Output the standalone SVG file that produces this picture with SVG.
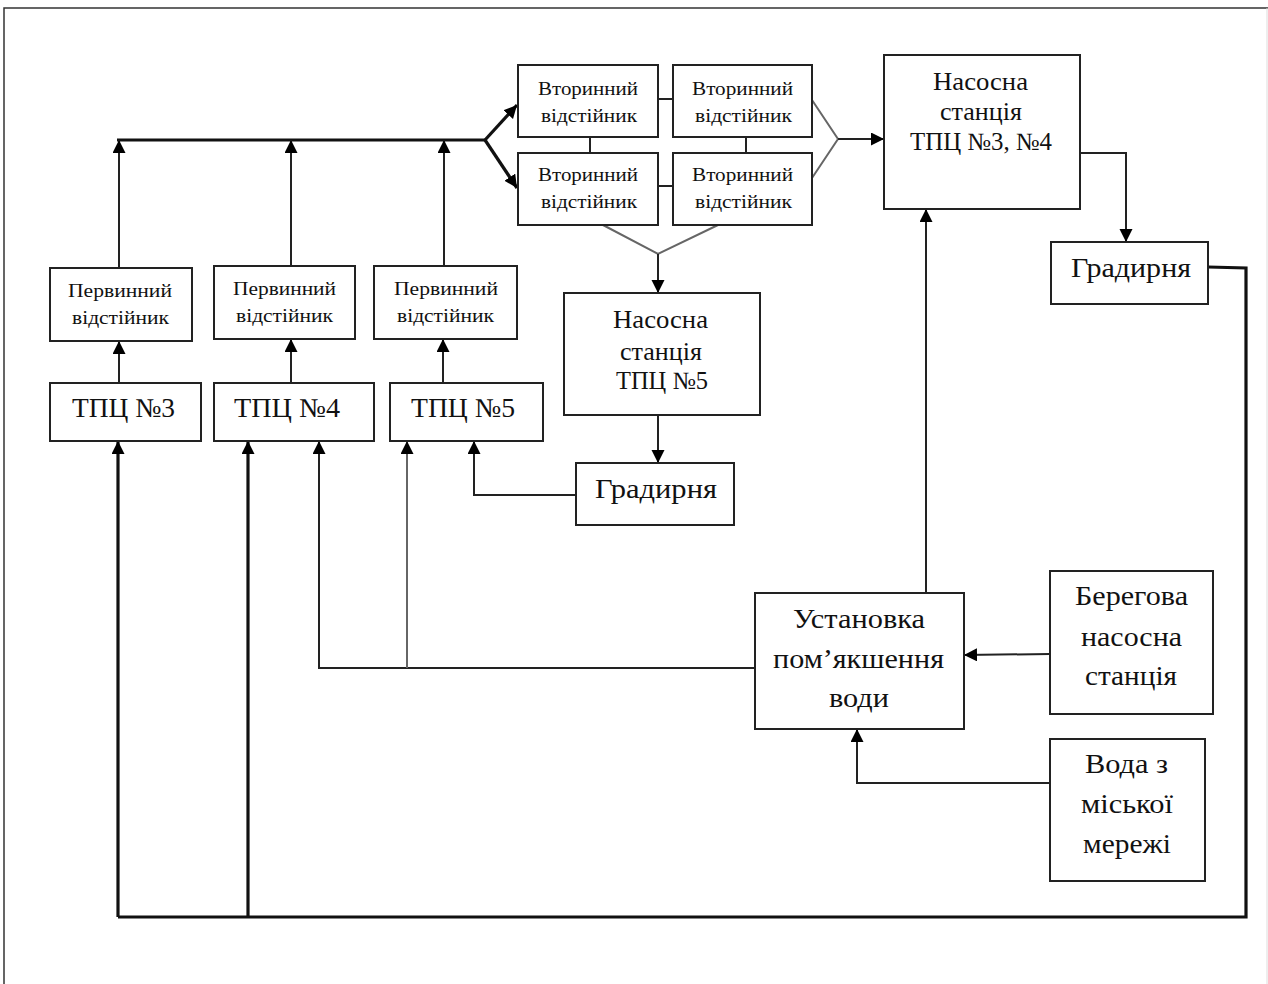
<svg xmlns="http://www.w3.org/2000/svg" width="1268" height="984" viewBox="0 0 1268 984">
<style>
.box{fill:#fff;stroke:#222;stroke-width:2}
.t{font-family:"Liberation Serif","Times New Roman",serif;fill:#111}
.s{font-size:18px}
.m{font-size:25px}
.l{font-size:27px}
.ln{fill:none;stroke:#222;stroke-width:2}
.th{fill:none;stroke:#111;stroke-width:3.2}
.gr{fill:none;stroke:#666;stroke-width:2}
.fr{fill:none;stroke:#333;stroke-width:1.5}
</style>
<defs>
<marker id="arr" markerUnits="userSpaceOnUse" markerWidth="14" markerHeight="14" refX="13" refY="6.5" orient="auto"><path d="M0,0 L13,6.5 L0,13 z" fill="#000"/></marker>
</defs>
<rect x="0" y="0" width="1268" height="984" fill="#fff"/>
<g id="frame">
<path class="fr" d="M4,984 L4,8 L1268,8"/>
<path d="M1267,8 L1267,984" stroke="#ddd" stroke-width="1"/>
</g>
<g id="connectors">
<path class="th" d="M117,140 L485,140"/>
<path class="th" d="M485,140 L517,105" marker-end="url(#arr)"/>
<path class="th" d="M485,140 L517,188" marker-end="url(#arr)"/>
<path class="ln" d="M119,268 L119,140" marker-end="url(#arr)"/>
<path class="ln" d="M291,266 L291,140" marker-end="url(#arr)"/>
<path class="ln" d="M444,266 L444,140" marker-end="url(#arr)"/>
<path class="ln" d="M119,383 L119,341" marker-end="url(#arr)"/>
<path class="ln" d="M291,383 L291,339" marker-end="url(#arr)"/>
<path class="ln" d="M443,383 L443,339" marker-end="url(#arr)"/>
<path class="ln" d="M658,99 L673,99 M658,186 L673,186 M590,137 L590,153 M746,137 L746,153"/>
<path class="gr" d="M812,100 L838,139 L812,178"/>
<path class="ln" d="M838,139 L884,139" marker-end="url(#arr)"/>
<path class="gr" d="M603,225 L658,254 L718,225"/>
<path class="ln" d="M658,254 L658,293" marker-end="url(#arr)"/>
<path class="ln" d="M658,415 L658,463" marker-end="url(#arr)"/>
<path class="ln" d="M576,495 L474,495 L474,441" marker-end="url(#arr)"/>
<path class="ln" d="M1080,153 L1126,153 L1126,242" marker-end="url(#arr)"/>
<path class="th" d="M1208,267 L1246,268 L1246,917 L118,917"/>
<path class="th" d="M118,917 L118,441" marker-end="url(#arr)"/>
<path class="th" d="M248,917 L248,441" marker-end="url(#arr)"/>
<path class="ln" d="M755,668 L319,668 L319,441" marker-end="url(#arr)"/>
<path class="gr" d="M407,668 L407,441" marker-end="url(#arr)"/>
<path class="ln" d="M926,593 L926,209" marker-end="url(#arr)"/>
<path class="ln" d="M1050,654 L964,655" marker-end="url(#arr)"/>
<path class="ln" d="M1050,783 L857,783 L857,729" marker-end="url(#arr)"/>
</g>
<g id="vt1"><rect class="box" x="518" y="65" width="140" height="72"/>
<text class="t s" x="538" y="95" textLength="100" lengthAdjust="spacingAndGlyphs">Вторинний</text>
<text class="t s" x="541" y="122" textLength="96" lengthAdjust="spacingAndGlyphs">відстійник</text></g>
<g id="vt2"><rect class="box" x="673" y="65" width="139" height="72"/>
<text class="t s" x="692" y="95" textLength="101" lengthAdjust="spacingAndGlyphs">Вторинний</text>
<text class="t s" x="695" y="122" textLength="97" lengthAdjust="spacingAndGlyphs">відстійник</text></g>
<g id="vt3"><rect class="box" x="518" y="153" width="140" height="72"/>
<text class="t s" x="538" y="181" textLength="100" lengthAdjust="spacingAndGlyphs">Вторинний</text>
<text class="t s" x="541" y="208" textLength="96" lengthAdjust="spacingAndGlyphs">відстійник</text></g>
<g id="vt4"><rect class="box" x="673" y="153" width="139" height="72"/>
<text class="t s" x="692" y="181" textLength="101" lengthAdjust="spacingAndGlyphs">Вторинний</text>
<text class="t s" x="695" y="208" textLength="97" lengthAdjust="spacingAndGlyphs">відстійник</text></g>
<g id="p1"><rect class="box" x="50" y="268" width="142" height="73"/>
<text class="t s" x="68" y="297" textLength="104" lengthAdjust="spacingAndGlyphs">Первинний</text>
<text class="t s" x="72" y="324" textLength="97" lengthAdjust="spacingAndGlyphs">відстійник</text></g>
<g id="p2"><rect class="box" x="214" y="266" width="141" height="73"/>
<text class="t s" x="233" y="295" textLength="103" lengthAdjust="spacingAndGlyphs">Первинний</text>
<text class="t s" x="236" y="322" textLength="97" lengthAdjust="spacingAndGlyphs">відстійник</text></g>
<g id="p3"><rect class="box" x="374" y="266" width="143" height="73"/>
<text class="t s" x="394" y="295" textLength="104" lengthAdjust="spacingAndGlyphs">Первинний</text>
<text class="t s" x="397" y="322" textLength="97" lengthAdjust="spacingAndGlyphs">відстійник</text></g>
<g id="tpc3"><rect class="box" x="50" y="383" width="151" height="58"/>
<text class="t l" x="72" y="417" textLength="103" lengthAdjust="spacingAndGlyphs">ТПЦ №3</text></g>
<g id="tpc4"><rect class="box" x="214" y="383" width="160" height="58"/>
<text class="t l" x="234" y="417" textLength="106" lengthAdjust="spacingAndGlyphs">ТПЦ №4</text></g>
<g id="tpc5"><rect class="box" x="390" y="383" width="153" height="58"/>
<text class="t l" x="411" y="417" textLength="104" lengthAdjust="spacingAndGlyphs">ТПЦ №5</text></g>
<g id="ns5"><rect class="box" x="564" y="293" width="196" height="122"/>
<text class="t m" x="613" y="328" textLength="95" lengthAdjust="spacingAndGlyphs">Насосна</text>
<text class="t m" x="620" y="360" textLength="82" lengthAdjust="spacingAndGlyphs">станція</text>
<text class="t m" x="616" y="389" textLength="92" lengthAdjust="spacingAndGlyphs">ТПЦ №5</text></g>
<g id="grad2"><rect class="box" x="576" y="463" width="158" height="62"/>
<text class="t l" x="595" y="498" textLength="122" lengthAdjust="spacingAndGlyphs">Градирня</text></g>
<g id="ns34"><rect class="box" x="884" y="55" width="196" height="154"/>
<text class="t m" x="933" y="90" textLength="95" lengthAdjust="spacingAndGlyphs">Насосна</text>
<text class="t m" x="940" y="120" textLength="82" lengthAdjust="spacingAndGlyphs">станція</text>
<text class="t m" x="910" y="150" textLength="142" lengthAdjust="spacingAndGlyphs">ТПЦ №3, №4</text></g>
<g id="grad1"><rect class="box" x="1051" y="242" width="157" height="62"/>
<text class="t l" x="1071" y="277" textLength="120" lengthAdjust="spacingAndGlyphs">Градирня</text></g>
<g id="ust"><rect class="box" x="755" y="593" width="209" height="136"/>
<text class="t l" x="793" y="628" textLength="132" lengthAdjust="spacingAndGlyphs">Установка</text>
<text class="t l" x="773" y="668" textLength="171" lengthAdjust="spacingAndGlyphs">пом’якшення</text>
<text class="t l" x="829" y="707" textLength="60" lengthAdjust="spacingAndGlyphs">води</text></g>
<g id="ber"><rect class="box" x="1050" y="571" width="163" height="143"/>
<text class="t l" x="1075" y="605" textLength="113" lengthAdjust="spacingAndGlyphs">Берегова</text>
<text class="t l" x="1081" y="646" textLength="101" lengthAdjust="spacingAndGlyphs">насосна</text>
<text class="t l" x="1085" y="685" textLength="92" lengthAdjust="spacingAndGlyphs">станція</text></g>
<g id="voda"><rect class="box" x="1050" y="739" width="155" height="142"/>
<text class="t l" x="1085" y="773" textLength="83" lengthAdjust="spacingAndGlyphs">Вода з</text>
<text class="t l" x="1081" y="813" textLength="92" lengthAdjust="spacingAndGlyphs">міської</text>
<text class="t l" x="1083" y="853" textLength="88" lengthAdjust="spacingAndGlyphs">мережі</text></g>
</svg>
